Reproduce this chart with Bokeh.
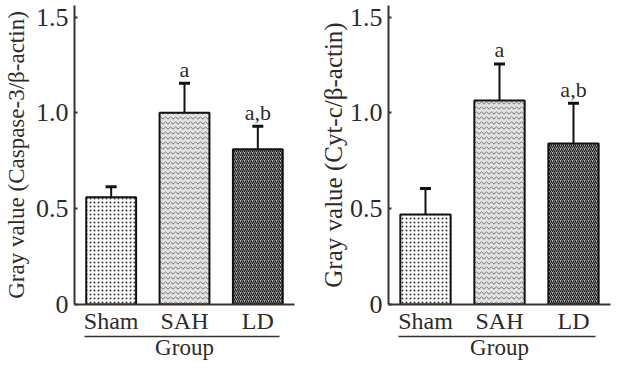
from bokeh.plotting import figure
from bokeh.layouts import row
from bokeh.models import (ColumnDataSource, Range1d, LinearAxis,
                          FixedTicker, Whisker, TeeHead)
from bokeh.core.properties import value
from bokeh.embed import file_html
from bokeh.resources import INLINE

groups = ["Sham", "SAH", "LD"]
group_title = "Group"
casp_mean = [0.56, 1.00, 0.81]
casp_err = [0.055, 0.155, 0.12]
casp_sig = ["", "a", "a,b"]
cyt_mean = [0.47, 1.065, 0.84]
cyt_err = [0.135, 0.19, 0.21]
cyt_sig = ["", "a", "a,b"]
y_ticks = [0, 0.5, 1.0, 1.5]
y_tick_labels = ["0", "0.5", "1.0", "1.5"]

FONT = "Liberation Serif"
INK = "#2e2a27"
AXC = "#3a322e"

hatch_patterns = [".", "v", "/"]
hatch_scales = [4, 5, 4]
hatch_weights = [1.2, 0.8, 1.1]
fill_colors = ["#ffffff", "#e2e2e2", "#b4b4b4"]
hatch_colors = ["#333333", "#555555", "#111111"]

xpos = [i + 0.5 for i in range(len(groups))]


def make_panel(means, errs, sigs, ylabel, width, mbl, mbr, lab_standoff, lab_size):
    src = ColumnDataSource(dict(
        x=xpos, m=means,
        up=[a + b for a, b in zip(means, errs)],
        sig=sigs,
        hp=hatch_patterns, hs=hatch_scales, hw=hatch_weights,
        fc=fill_colors, hc=hatch_colors,
    ))
    p = figure(x_range=Range1d(0, len(groups)),
               y_range=Range1d(0, 1.56),
               width=width, height=362, output_backend="svg",
               toolbar_location=None, min_border_left=mbl, min_border_right=mbr,
               min_border_top=5, min_border_bottom=0)
    p.outline_line_color = None
    p.grid.visible = False

    p.vbar(x="x", top="m", width=0.68, source=src, fill_color="fc",
           hatch_pattern="hp", hatch_scale="hs", hatch_color="hc", hatch_weight="hw",
           line_color="#111111", line_width=2)

    w = Whisker(base="x", upper="up", lower="m", source=src, dimension="height",
                line_color="#111111", line_width=2, level="annotation",
                lower_head=None,
                upper_head=TeeHead(size=11, line_width=3, line_color="#111111"))
    p.add_layout(w)

    p.text(x="x", y="up", text="sig", source=src, y_offset=-14,
           text_align="center", text_baseline="alphabetic",
           text_font=value(FONT), text_font_size="22px", text_color=INK)

    # y axis
    ya = p.yaxis[0]
    ya.ticker = FixedTicker(ticks=y_ticks)
    ya.major_label_overrides = {t: s for t, s in zip(y_ticks, y_tick_labels)}
    ya.minor_tick_line_color = None
    ya.minor_tick_out = 0
    ya.major_tick_in = 3
    ya.major_tick_out = 0
    ya.major_label_standoff = 6
    ya.axis_line_width = 2
    ya.axis_line_color = AXC
    ya.major_tick_line_color = AXC
    ya.major_tick_line_width = 2
    ya.major_label_text_font = FONT
    ya.major_label_text_font_size = "26px"
    ya.major_label_text_color = INK

    la = LinearAxis(ticker=FixedTicker(ticks=[]),
                    axis_label=ylabel, axis_line_color=None,
                    major_tick_line_color=None, minor_tick_line_color=None,
                    major_tick_out=0, major_tick_in=0, minor_tick_out=0,
                    major_label_standoff=0, major_label_text_font_size="0px",
                    axis_label_standoff=lab_standoff,
                    axis_label_text_font=FONT, axis_label_text_font_size=lab_size,
                    axis_label_text_font_style="normal",
                    axis_label_text_color=INK)
    p.add_layout(la, "left")

    # x axis (categories)
    xa = p.xaxis[0]
    xa.ticker = FixedTicker(ticks=xpos)
    xa.major_label_overrides = {x: g for x, g in zip(xpos, groups)}
    xa.major_tick_line_color = None
    xa.major_tick_out = 0
    xa.major_tick_in = 0
    xa.minor_tick_line_color = None
    xa.minor_tick_out = 0
    xa.major_label_standoff = 3
    xa.axis_line_width = 2
    xa.axis_line_color = AXC
    xa.major_label_text_font = FONT
    xa.major_label_text_font_size = "24px"
    xa.major_label_text_color = INK

    # underline axis carrying the group title
    ua = LinearAxis(ticker=FixedTicker(ticks=[]),
                    bounds=(0.14, 2.8), axis_label=group_title,
                    axis_line_color=AXC, axis_line_width=1.5,
                    major_tick_line_color=None, minor_tick_line_color=None,
                    major_tick_out=0, major_tick_in=0, minor_tick_out=0,
                    major_label_standoff=0, major_label_text_font_size="0px",
                    axis_label_standoff=-2,
                    axis_label_text_font=FONT, axis_label_text_font_size="23px",
                    axis_label_text_font_style="normal",
                    axis_label_text_color=INK)
    p.add_layout(ua, "below")
    return p


p1 = make_panel(casp_mean, casp_err, casp_sig, "Gray value (Caspase-3/β-actin)",
                316, 64, 22, 4, "23px")
p2 = make_panel(cyt_mean, cyt_err, cyt_sig, "Gray value (Cyt-c/β-actin)",
                297, 64, 3, 0, "25px")

layout = row(p1, p2)
open("out.html", "w").write(file_html(layout, INLINE))
